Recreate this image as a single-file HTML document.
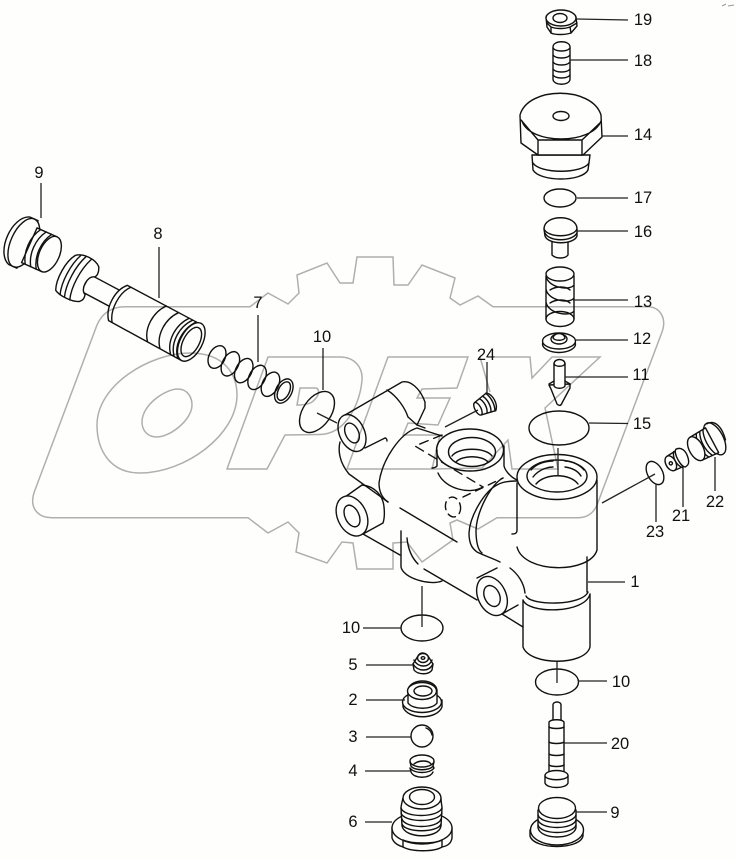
<!DOCTYPE html>
<html><head><meta charset="utf-8"><style>
html,body{margin:0;padding:0;background:#fefefc}
svg{display:block;position:absolute;left:0;top:0}
.p{fill:#fefefc;stroke:#111;stroke-width:1.4;stroke-linecap:round;stroke-linejoin:round}
.n{fill:none}
.l{fill:none;stroke:#222;stroke-width:1.3}
text{font-family:"Liberation Sans",sans-serif;font-size:16.5px;fill:#111;stroke:none;text-anchor:middle;dominant-baseline:central}
.w{fill:none;stroke:#b0b0b0;stroke-width:1.5;mix-blend-mode:multiply}
</style></head><body>
<svg width="735" height="859" viewBox="0 0 735 859" xmlns="http://www.w3.org/2000/svg">
<rect width="735" height="859" fill="#fefefc"/>

<!-- PART 19 -->
<g class="p">
<path d="M546,17 C548,9 574,9 576,17 L577,26 L571,33 C565,35 555,35 551,33 L547,27 Z"/>
<ellipse cx="561" cy="18" rx="15" ry="8"/>
<ellipse cx="560" cy="18" rx="7" ry="4.5"/>
<path class="n" d="M547,23 L551,27 L551,33 M570,27 L577,23 M570,27 L571,33 M551,27 C556,29 565,29 570,27"/>
</g>
<!-- PART 18 -->
<g class="p">
<path d="M553,47 C553,40 570,40 570,47 L570,79 C570,86 553,86 553,79 Z"/>
<path class="n" d="M553,48 C556,52 567,52 570,48 M553,55 C556,59 567,59 570,55 M553,62 C556,66 567,66 570,62 M553,69 C556,73 567,73 570,69 M553,75 C556,79 567,79 570,75"/>
</g>
<!-- PART 14 -->
<g class="p">
<path d="M532,155 L533,170 C540,182 582,182 588,170 L590,155 Z"/>
<path class="n" d="M533,163 C540,174 582,174 589,163"/>
<path d="M520,115 C528,86 592,86 601,115 L602,137 L583,155 L538,155 L521,143 Z"/>
<path class="n" d="M522,121 C530,145 592,145 601,121 M521,120 L538,140 L582,140 L601,122 M538,140 L538,155 M582,140 L582,155"/>
<ellipse cx="561" cy="116" rx="8" ry="4.5"/>
</g>
<!-- PART 17 -->
<ellipse class="p" cx="560" cy="198" rx="16" ry="9"/>
<!-- PART 16 -->
<g class="p">
<path d="M552,240 L552,255 C556,259 565,259 568,255 L568,240 Z"/>
<path d="M544,229 C544,214 577,214 577,229 L577,236 C574,245 548,245 545,236 Z"/>
<path class="n" d="M544,229 C548,238 573,238 577,229 M545,233 C549,242 572,242 577,233"/>
</g>
<!-- PART 13 -->
<g class="p n">
<ellipse cx="560" cy="274" rx="14" ry="7"/>
<path d="M546,276 C548,288 570,291 574,285 M546,289 C548,301 570,304 574,298 M546,302 C548,314 570,317 574,311 M574,276 L574,311 M546,276 L546,319 M550,290 C556,286 566,286 570,290 M550,303 C556,299 566,299 570,303 M574,311 L574,319"/>
<ellipse cx="560" cy="319" rx="14" ry="7.5"/>
</g>
<!-- PART 12 -->
<g class="p">
<ellipse cx="559" cy="344" rx="16.5" ry="8.5"/>
<ellipse cx="559" cy="341" rx="16.5" ry="8"/>
<ellipse cx="559" cy="339" rx="8" ry="5"/>
<path d="M553,338 C554,332 564,332 565,338 C563,341 555,341 553,338Z"/>
</g>
<!-- PART 11 -->
<g class="p">
<path d="M549,385 L551,389 L557,404 C559,406 561,406 562,403 L570,388 L570,384 Z"/>
<path d="M554,364 C554,358 565,358 565,364 L565,386 C563,389 556,389 554,386 Z"/>
<path class="n" d="M554,364 C556,367 563,367 565,364 M549,384 L554,381 M570,384 L565,381"/>
</g>
<!-- PART 15 -->
<ellipse class="p" cx="559" cy="428" rx="30" ry="17"/>

<!-- BODY -->
<g class="p">
<path stroke="none" d="M342,440 L340,460 L350,475 L363,534 L401,567 L423,583 L477,600 L502,614 L523,627 L523,647 C530,665 585,665 590,647 L590,593 L587,560 L597,550 L597,477 C590,445 525,445 517,477 L504,445 C495,420 445,420 437,445 L420,428 L425,402 L403,382 L343,415 Z"/>
<!-- lower right cylinder -->
<path class="n" d="M587,557 L587,592 M523,600 L523,647 C530,666 585,666 590,647 L590,594 M523,600 C528,614 585,614 590,594 M526,596 C531,606 582,606 588,592"/>
<!-- right socket -->
<path class="n" d="M597,480 L597,550 C590,574 524,574 517,547"/>
<path class="n" d="M517,483 L517,530 C517,534 514,534 512,534"/>
<ellipse class="n" cx="557" cy="477" rx="40" ry="22.5"/>
<ellipse cx="557" cy="476" rx="30" ry="16" class="n"/>
<path class="n" d="M531,470 C537,463 547,461 553,461 M565,461 C572,461 580,465 584,470 M533,477 C540,468 550,467 553,467 M565,467 C572,468 578,471 581,476 M536,484 C545,473 570,473 578,484"/>
<!-- saddle -->
<path class="n" d="M517,481 C505,481 500,483 497,485 C485,491 470,515 469,533 C469,545 473,549 477,552 C485,556 492,558 500,562"/>
<path class="n" d="M503,478 C492,483 477,510 476,530 C476,542 478,550 482,553"/>
<!-- middle socket -->
<ellipse class="n" cx="470" cy="450" rx="33.5" ry="21"/>
<ellipse class="n" cx="472" cy="452" rx="23.5" ry="14.5"/>
<path class="n" d="M452,456 C458,447 486,447 492,456 M456,462 C462,455 482,455 488,462"/>
<path class="n" d="M437,450 L437,466 C436,467 434,468 432,468 M504,446 L504,466 C505,470 510,477 517,480 M438,473 C445,489 470,495 483,487"/>
<!-- dashed -->
<path class="n" stroke-dasharray="9 6" d="M442,435 L415,446 L483,487"/>
<path class="n" stroke-dasharray="8 6" d="M463,497 L503,478"/>
<ellipse class="n" stroke-dasharray="8 5" cx="453" cy="507" rx="7.5" ry="10" transform="rotate(-10 453 507)"/>
<!-- big arc -->
<path class="n" d="M442,436 L417,428 C400,433 382,460 379,483 C379,491 382,498 388,502"/>
<!-- top-left boss -->
<path class="n" d="M345,415 L402,382 C410,380 420,388 425,402 L425,408 L417,425"/>
<path class="n" d="M387,390 C397,396 405,408 408,417 L417,425 L425,428"/>
<ellipse cx="352" cy="433" rx="12.5" ry="19.5" transform="rotate(-25 352 433)"/>
<ellipse cx="352" cy="433" rx="6.5" ry="10.5" transform="rotate(-25 352 433)"/>
<path class="n" d="M365,448 L385,438 C386,438 387,439 387,441"/>
<path class="n" d="M340,442 C338,450 339,462 349,474 L388,502"/>
<!-- second boss -->
<path class="n" d="M345,497 L362,485 C374,486 383,495 384,507 C385,516 384,520 383,523 L363,534"/>
<ellipse cx="352" cy="516" rx="14.5" ry="21" transform="rotate(-25 352 516)"/>
<ellipse cx="352" cy="516" rx="7" ry="11.5" transform="rotate(-25 352 516)"/>
<path class="n" d="M363,534 L400,555"/>
<path class="n" d="M400,508 L457,542"/>
<!-- bottom port -->
<path class="n" d="M401,531 L401,567 C403,578 430,586 442,581 M407,538 C408,549 412,558 418,564"/>
<path class="n" d="M424,569 L477,600"/>
<!-- third boss -->
<path class="n" d="M477,578 L497,568 M510,568 C518,574 524,583 525,593 M502,614 L518,605 M502,614 L523,627"/>
<ellipse cx="492" cy="596" rx="14" ry="20.5" transform="rotate(-25 492 596)"/>
<ellipse cx="492" cy="596" rx="7.5" ry="11" transform="rotate(-25 492 596)"/>
</g>

<!-- SPOOL 8 -->
<g class="p" transform="translate(118,303) rotate(28)">
<path d="M-38,-12 L2,-12 L2,7 L-38,7 Z"/>
<path d="M-60,-22 C-54,-28 -40,-28 -34,-23 C-31,-18 -31,-14 -33,-12 C-40,-10 -40,6 -33,8 C-32,12 -32,14 -35,17 C-42,21 -56,21 -61,18 C-66,8 -66,-12 -60,-22 Z"/>
<path class="n" d="M-55,-25 C-60,-12 -60,8 -55,20 M-50,-26 C-55,-12 -55,8 -50,20 M-44,-26 C-49,-12 -49,8 -44,20"/>
<path d="M0,-20 L83,-20 L83,21 L0,20 C-9,10 -9,-10 0,-20 Z"/>
<path class="n" d="M4,-20 C-4,-10 -4,10 4,20 M44,-20 C35,-8 35,10 44,20 M58,-20 C49,-8 49,10 58,20 M70,-20 C61,-8 61,10 70,20 M74,-20 C65,-8 65,10 74,20 M78,-20 C69,-8 69,10 78,20"/>
<ellipse cx="83" cy="0" rx="11" ry="21"/>
<ellipse cx="83" cy="0" rx="8" ry="16"/>
</g>
<!-- PLUG 9 top-left -->
<g class="p" transform="translate(22,242) rotate(24)">
<path d="M-3,-26 C-20,-20 -20,20 -3,26 L6,26 L6,-26 Z"/>
<ellipse cx="2" cy="0" rx="13" ry="26"/>
<path d="M8,-19 L30,-19 L30,19 L8,19 Z"/>
<path class="n" d="M12,-19 C5,-8 5,8 12,19 M18,-19 C11,-8 11,8 18,19 M24,-19 C17,-8 17,8 24,19"/>
<ellipse cx="30" cy="0" rx="10" ry="19"/>
</g>
<!-- SPRING 7 -->
<g class="p n" transform="translate(217,357) rotate(27)">
<ellipse cx="0" cy="0" rx="8" ry="12"/>
<ellipse cx="15" cy="0" rx="8" ry="13"/>
<ellipse cx="30" cy="0" rx="8" ry="13"/>
<ellipse cx="45" cy="0" rx="8" ry="13"/>
<ellipse cx="60" cy="0" rx="8" ry="13"/>
<ellipse cx="75" cy="0" rx="8" ry="13"/>
<ellipse cx="75" cy="0" rx="5.5" ry="10"/>
</g>
<!-- RING 10 -->
<ellipse class="p" cx="317" cy="412" rx="14" ry="23" transform="rotate(35 317 412)"/>
<!-- PLUG 24 -->
<g class="p" transform="translate(485,405) rotate(-28)">
<path d="M-8,-7 L7,-10 C12,-5 12,5 7,10 L-8,7 Z"/>
<path class="n" d="M-2,-8 C1,-4 1,4 -2,8 M2,-9 C5,-4 5,4 2,9 M6,-10 C9,-4 9,4 6,10"/>
<ellipse cx="-8" cy="0" rx="3" ry="7"/>
</g>
<!-- RING 23 -->
<ellipse class="p" cx="655" cy="473" rx="7.5" ry="12.5" transform="rotate(-28 655 473)"/>
<!-- PLUG 21 -->
<g class="p" transform="translate(677,460) rotate(-28)">
<path d="M-7,-8 L6,-9 L6,9 L-7,8 Z"/>
<path d="M4,-10 C10,-10 12,-4 11,2 C10,8 8,10 4,10 C0,8 0,-8 4,-10 Z"/>
<path class="n" d="M1,-9 C-3,-4 -3,4 1,9"/>
<ellipse cx="-7" cy="0" rx="5" ry="8"/>
<circle cx="-7" cy="0" r="1.6"/>
</g>
<!-- PLUG 22 -->
<g class="p" transform="translate(705,444) rotate(-28)">
<ellipse cx="11" cy="0" rx="8.5" ry="17.5"/>
<path class="n" d="M11,-17 C21,-17 23,-6 20,6"/>
<path d="M-10,-13 L8,-14 L8,14 L-10,13 Z"/>
<path class="n" d="M-3,-13 C-7,-6 -7,6 -3,13 M1,-13 C-3,-6 -3,6 1,13 M5,-14 C1,-6 1,6 5,14"/>
<ellipse cx="-10" cy="0" rx="7" ry="13"/>
</g>
<!-- RING 10 left -->
<ellipse class="p" cx="422" cy="628" rx="21" ry="13"/>
<!-- RING 10 right -->
<ellipse class="p" cx="557" cy="682" rx="21.5" ry="13"/>
<!-- PART 5 -->
<g class="p">
<path d="M413,664 L414,670 C418,675 429,675 432,670 L433,664 L428,656 C425,652 420,652 418,656 Z"/>
<path class="n" d="M414,660 C418,668 429,668 432,660 M413,664 C418,672 429,672 433,664"/>
<ellipse cx="423" cy="658" rx="5.5" ry="4.5"/>
<ellipse cx="423" cy="658" rx="1.8" ry="1.3"/>
</g>
<!-- PART 2 -->
<g class="p">
<path d="M403,700 L403,707 C408,720 437,720 442,707 L442,700 Z"/>
<ellipse cx="422" cy="702" rx="19.5" ry="10.5"/>
<path d="M408,690 L408,703 C413,710 432,710 437,703 L437,690 C435,678 410,678 408,690 Z"/>
<ellipse cx="422" cy="691" rx="14.5" ry="8.5"/>
<ellipse cx="423" cy="691" rx="9" ry="5"/>
</g>
<!-- PART 3 -->
<circle class="p" cx="422" cy="736" r="11"/>
<path class="p n" d="M426,728 C429,729 431,731 432,735"/>
<!-- PART 4 -->
<g class="p n">
<ellipse cx="422" cy="761" rx="12" ry="6"/>
<path d="M410,762 L411,766 C414,771 430,771 433,766 L434,762 M410,768 C414,774 430,774 434,768 M411,772 C414,779 430,779 433,772 M410,768 L411,772 M433,766 L434,768 M414,764 C419,760 428,760 431,764"/>
</g>
<!-- PART 6 -->
<g class="p">
<path d="M392,828 L392,838 C394,844 400,846 403,847 C412,852 434,852 442,847 C447,846 451,844 452,838 L452,828 Z"/>
<ellipse cx="422" cy="828" rx="30" ry="16"/>
<path class="n" d="M403,847 L403,840 M442,847 L442,840 M403,840 C412,844 434,844 442,840"/>
<path d="M403,798 C402,802 401,806 401,808 L402,826 C405,839 439,839 441,826 L442,808 C442,806 441,802 441,798 Z"/>
<path class="n" d="M401,808 C404,818 438,818 442,808 M401,813 C404,823 438,823 442,813 M402,819 C405,829 438,829 441,819 M402,824 C405,833 438,833 441,824"/>
<ellipse cx="422" cy="798" rx="19" ry="11"/>
<ellipse cx="422" cy="797" rx="12.5" ry="7.5"/>
</g>
<!-- PART 20 -->
<g class="p">
<path d="M553,705 C553,701 561,701 561,705 L561,722 L553,722 Z"/>
<path d="M549,722 C551,719 562,719 564,722 L564,772 L549,772 Z"/>
<path class="n" d="M549,727 C552,729 561,729 564,727 M549,742 C552,744 561,744 564,742 M549,754 C552,756 561,756 564,754 M549,765 C552,767 561,767 564,765"/>
<path d="M545,775 L545,783 C547,789 566,789 568,783 L568,775 C566,769 547,769 545,775 Z"/>
<path class="n" d="M545,776 C547,781 566,781 568,776"/>
</g>
<!-- PART 9 bottom -->
<g class="p">
<path d="M530,830 L530,836 C534,850 580,850 583,836 L583,830 Z"/>
<ellipse cx="557" cy="830" rx="26.5" ry="15"/>
<path d="M538,810 L538,828 C541,840 573,840 576,828 L576,810 Z"/>
<path class="n" d="M538,815 C541,825 573,825 576,815 M538,820 C541,830 573,830 576,820 M538,825 C541,835 573,835 576,825"/>
<ellipse cx="557" cy="808" rx="18.5" ry="10.5"/>
</g>

<!-- LEADERS -->
<g class="l">
<path d="M577,19 L628,20 M570,60 L628,60 M602,136 L628,136 M577,198 L628,198 M577,231 L628,231 M573,300 L628,300 M576,340 L628,340 M565,377 L628,377 M589,423 L628,423.5"/>
<path d="M558,448 L558,475"/>
<path d="M41,183 L41,218 M159,247 L159,298 M258,315 L258,362 M323,348 L323,390 M317,413 L337,423"/>
<path d="M487,362 L487,395 M445,427 L478,410"/>
<path d="M602,503 L655,474 M656,484 L656,522 M683,467 L683,507 M715,457 L715,491"/>
<path d="M588,582 L625,582"/>
<path d="M363,628 L401,628 M422,586 L422,627"/>
<path d="M557,662 L557,683 M578,681 L607,681 M564,743 L607,743 M576,812 L607,812"/>
<path d="M366,665 L413,665 M366,700 L405,700 M366,737 L411,737 M365,771 L410,771 M365,822 L392,822"/>
</g>

<!-- LABELS -->
<text x="643" y="20">19</text>
<text x="643" y="61">18</text>
<text x="643" y="135">14</text>
<text x="643" y="198">17</text>
<text x="643" y="232">16</text>
<text x="643" y="302">13</text>
<text x="642" y="339">12</text>
<text x="641" y="375">11</text>
<text x="642" y="424">15</text>
<text x="39" y="173">9</text>
<text x="158" y="234">8</text>
<text x="258" y="303">7</text>
<text x="322" y="337">10</text>
<text x="486" y="355">24</text>
<text x="655" y="532">23</text>
<text x="681" y="516">21</text>
<text x="715" y="502">22</text>
<text x="635" y="582">1</text>
<text x="351" y="628">10</text>
<text x="621" y="682">10</text>
<text x="620" y="744">20</text>
<text x="615" y="813">9</text>
<text x="353" y="665">5</text>
<text x="353" y="700">2</text>
<text x="353" y="737">3</text>
<text x="353" y="771">4</text>
<text x="353" y="822">6</text>

<!-- WATERMARK -->
<g class="w">
<path d="M250,306.7 L125,306.7 C112,306.7 102,313 97,325 L35,490 C28,508 38,517.7 52,517.7 L248,517.7 L268,533 L288,522 L299,533 L296,552 L327,563 L342,542 L353,543 L357,569 L393,569 L393,543 L407,542 L422,562 L453,540 L450,523 L457,520 L478,529 L497,517.7 L578,517.7 C588,517.7 594,512 597,505 L662,332 C667,318 660,307 648,306.7 L493,306.7 L478,296 L460,305 L450,298 L455,278 L422,265 L408,285 L394,285 L393,257 L357,257 L353,283 L340,283 L327,263 L297,275 L299,293 L288,304 L268,293 Z"/>
<path d="M97,425 C97,385 150,353 190,353 C225,353 237,375 237,395 C237,435 185,473 140,473 C110,473 97,450 97,425 Z"/>
<path d="M142,422 C142,405 165,389 178,389 C188,389 192,398 192,405 C192,420 170,437 157,437 C147,437 142,430 142,422 Z"/>
<path d="M227,469 L268,357 L340,357 C355,357 363,368 362,380 C360,405 345,434 320,434.5 L285,435 L267,469 Z"/>
<path d="M300,388 L315,388 C320,388 319,395 316,398 C313,402 310,405 297,405 Z"/>
<path d="M347,469 L388,357 L468,357 L457,388 L422,389 L417,398 L450,398 L438,425 L408,423 L403,435 L440,435 L432,469 Z"/>
<path d="M495,357 L530,357 L532,378 L552,357 L600,357 L545,408 L558,469 L512,469 L508,440 L482,468 L432,469 M480,357 L490,392"/>
</g>
<path d="M722,6 L726,4 M728,6 L734,5" stroke="#999" stroke-width="1" fill="none"/>
</svg>
</body></html>
